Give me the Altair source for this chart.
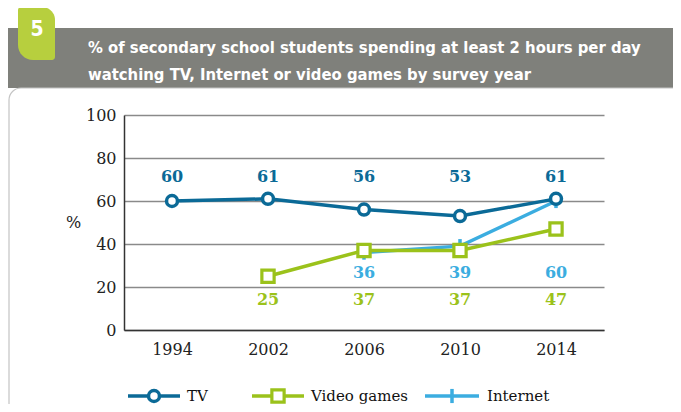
import altair as alt
import pandas as pd

# ---- data ----
years = ["1994", "2002", "2006", "2010", "2014"]
tv_values = [60, 61, 56, 53, 61]
video_years = ["2002", "2006", "2010", "2014"]
video_values = [25, 37, 37, 47]
internet_years = ["2006", "2010", "2014"]
internet_values = [36, 39, 60]
series_names = ["TV", "Video games", "Internet"]
series_colors = ["#0b6a97", "#9bc21b", "#3badE0".lower()]
y_ticks = [0, 20, 40, 60, 80, 100]
title_lines = [
    "% of secondary school students spending at least 2 hours per day",
    "watching TV, Internet or video games by survey year",
]
tab_label = "5"
y_title = "%"

df_tv = pd.DataFrame({"year": years, "value": tv_values})
df_vg = pd.DataFrame({"year": video_years, "value": video_values})
df_in = pd.DataFrame({"year": internet_years, "value": internet_values})

SERIF = "DejaVu Serif"
TITLE_FONT = "DejaVu Sans Condensed, DejaVu Sans"
TICK_PATH = "M0,-1L0,1"

x_enc = alt.X("year:O", scale=alt.Scale(domain=years),
              axis=alt.Axis(title=None, labelAngle=0, ticks=False, domain=True,
                            domainColor="#333333", domainWidth=1.5,
                            labelFont=SERIF, labelFontSize=16, labelColor="#222222",
                            labelPadding=11))
y_enc = alt.Y("value:Q", scale=alt.Scale(domain=[0, 100], nice=False),
              axis=alt.Axis(values=y_ticks, grid=True, gridColor="#8a8a8a", gridWidth=1.5,
                            ticks=False, domain=True, domainColor="#333333", domainWidth=1.5,
                            labelFont=SERIF, labelFontSize=16, labelColor="#222222",
                            labelPadding=8, title=y_title, titleAngle=0,
                            titleFont=SERIF, titleFontSize=16, titleFontWeight="normal",
                            titleColor="#222222", titleX=-51, titleY=107,
                            titleAlign="center", titleBaseline="middle"))

dec = alt.Chart(pd.DataFrame({"k": [0]}))

header = dec.mark_rect(color="#7f807b").encode(
    x=alt.value(-116), x2=alt.value(600), y=alt.value(-87), y2=alt.value(-27))
frame = dec.mark_rect(fill=None, stroke="#c4c4c4", strokeWidth=1.2, cornerRadius=12).encode(
    x=alt.value(-115), x2=alt.value(600), y=alt.value(-27), y2=alt.value(300))
tab = dec.mark_rect(color="#b7cf3e", cornerRadiusTopRight=13, cornerRadiusBottomLeft=15,
                    cornerRadiusTopLeft=3, cornerRadiusBottomRight=3).encode(
    x=alt.value(-106), x2=alt.value(-69), y=alt.value(-108), y2=alt.value(-55))
tab_text = dec.mark_text(text=tab_label, color="white", font=TITLE_FONT, fontSize=21,
                         fontWeight="bold", align="center", baseline="middle").encode(
    x=alt.value(-87), y=alt.value(-85))
title1 = dec.mark_text(text=title_lines[0], color="white", font=TITLE_FONT, fontSize=16.5,
                       fontWeight="bold", align="left", baseline="middle").encode(
    x=alt.value(-36), y=alt.value(-67))
title2 = dec.mark_text(text=title_lines[1], color="white", font=TITLE_FONT, fontSize=16.5,
                       fontWeight="bold", align="left", baseline="middle").encode(
    x=alt.value(-36), y=alt.value(-40))

c_tv, c_vg, c_in = series_colors

in_line = alt.Chart(df_in).mark_line(color=c_in, strokeWidth=3.5).encode(x=x_enc, y=y_enc)
in_pts = alt.Chart(df_in).mark_point(shape=TICK_PATH, size=200, color=c_in, strokeWidth=3.5,
                                     opacity=1).encode(x="year:O", y="value:Q")
vg_line = alt.Chart(df_vg).mark_line(color=c_vg, strokeWidth=3.5).encode(x="year:O", y="value:Q")
vg_pts = alt.Chart(df_vg).mark_point(shape="square", size=150, filled=True, fill="white",
                                     stroke=c_vg, strokeWidth=3.2, opacity=1).encode(
    x="year:O", y="value:Q")
tv_line = alt.Chart(df_tv).mark_line(color=c_tv, strokeWidth=3.5).encode(x="year:O", y="value:Q")
tv_pts = alt.Chart(df_tv).mark_point(shape="circle", size=120, filled=True, fill="white",
                                     stroke=c_tv, strokeWidth=3.5, opacity=1).encode(
    x="year:O", y="value:Q")

def labels(df, color, ypix):
    return alt.Chart(df).mark_text(color=color, font=SERIF, fontSize=16, fontWeight="bold",
                                   align="center", baseline="middle").encode(
        x="year:O", y=alt.value(ypix), text="value:Q")

tv_lab = labels(df_tv, c_tv, 62)
in_lab = labels(df_in, c_in, 158)
vg_lab = labels(df_vg, c_vg, 185)

# ---- legend ----
LY = 281
def leg_rule(x1, x2, color):
    return dec.mark_rule(color=color, strokeWidth=3.5).encode(
        x=alt.value(x1), x2=alt.value(x2), y=alt.value(LY))
def leg_text(x, txt):
    return dec.mark_text(text=txt, font=SERIF, fontSize=15, color="#111111",
                         align="left", baseline="middle").encode(x=alt.value(x), y=alt.value(LY))

legend = [
    leg_rule(4, 56, c_tv),
    dec.mark_point(shape="circle", size=120, filled=True, fill="white", stroke=c_tv,
                   strokeWidth=3.5, opacity=1).encode(x=alt.value(30), y=alt.value(LY)),
    leg_text(63, series_names[0]),
    leg_rule(128, 180, c_vg),
    dec.mark_point(shape="square", size=150, filled=True, fill="white", stroke=c_vg,
                   strokeWidth=3.2, opacity=1).encode(x=alt.value(154), y=alt.value(LY)),
    leg_text(187, series_names[1]),
    leg_rule(301, 355, c_in),
    dec.mark_point(shape=TICK_PATH, size=200, color=c_in, strokeWidth=3.5,
                   opacity=1).encode(x=alt.value(328), y=alt.value(LY)),
    leg_text(363, series_names[2]),
]

chart = alt.layer(
    header, frame, tab, tab_text, title1, title2,
    in_line, in_pts, vg_line, vg_pts, tv_line, tv_pts,
    tv_lab, in_lab, vg_lab, *legend,
).properties(
    width=480, height=215,
    padding={"left": 116, "top": 107, "right": 69, "bottom": 74},
    autosize=alt.AutoSizeParams(type="none"),
).configure_view(stroke=None)

chart.save("out.html", embed_options={"renderer": "svg", "actions": False})
